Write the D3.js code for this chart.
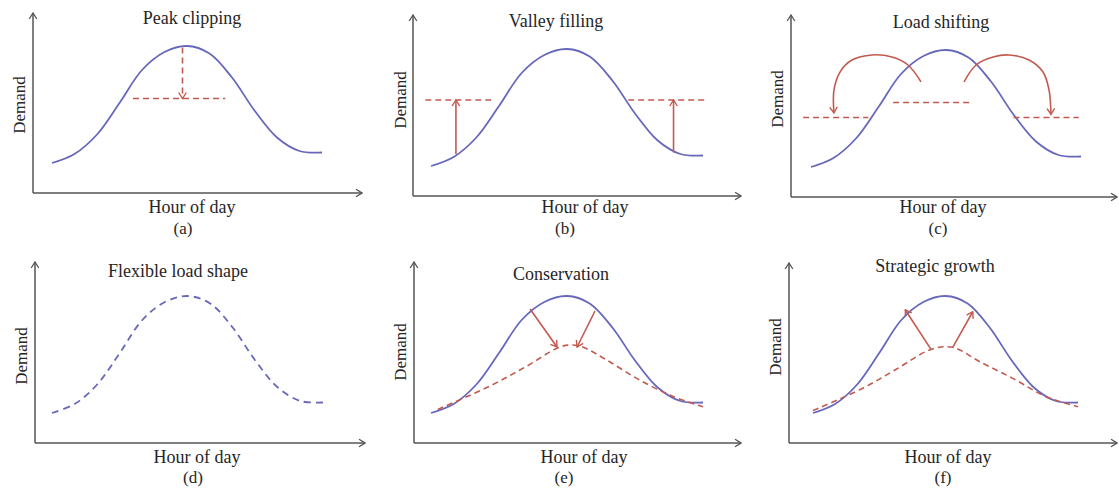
<!DOCTYPE html>
<html>
<head>
<meta charset="utf-8">
<script src="https://cdn.jsdelivr.net/npm/d3@7"></script>
<style>
  body { margin: 0; background: #fff; }
  text { font-family: "Liberation Serif", "DejaVu Serif", serif; fill: #262626; }
  .axis { stroke: #555; stroke-width: 1.5; fill: none; }
  .load { stroke: #6767bb; stroke-width: 1.8; fill: none; }
  .red { stroke: #c35a50; stroke-width: 1.6; fill: none; }
</style>
</head>
<body>
<svg id="chart" width="1119" height="497"></svg>
<script>
// Base load curve (hour of day -> demand, 0..100)
const hours = [0, 2, 4, 6, 8, 10, 12, 14, 16, 18, 20, 22, 24];
const baseDemand = [20, 26, 39, 60, 82, 94, 98, 93, 77, 55, 37, 28, 27];

const titles = ["Peak clipping", "Valley filling", "Load shifting",
                "Flexible load shape", "Conservation", "Strategic growth"];
const letters = ["(a)", "(b)", "(c)", "(d)", "(e)", "(f)"];
const xLabel = "Hour of day";
const yLabel = "Demand";

// (a) peak clipping
const clipLevel = 63;
const clipSpan = [7.2, 15.4];
const clipArrow = [11.6, 97, 63]; // hour, from, to

// (b) valley filling
const fillLevel = 64;
const fillSpans = [[-0.5, 5.3], [17.4, 24.2]];
const fillArrows = [[2.2, 28, 64], [21.4, 29, 64]];

// (c) load shifting
const shiftSpans = [[-0.7, 5.1, 53], [7.3, 14.4, 63], [18.0, 23.8, 53]];
const shiftArcLeft = [[9.78, 76.7], [8.62, 88], [7.2, 93.3], [5.42, 94.7],
                      [3.64, 91.3], [2.58, 83.3], [2.04, 71.3], [2.04, 56]];
const shiftArcRight = [[13.6, 76.7], [14.67, 88], [16.18, 93.3], [17.6, 94.7],
                       [19.38, 91.3], [20.62, 83.3], [21.16, 71.3], [21.33, 55]];

// (e) conservation
const consHours = [0.6, 5.2, 8.4, 11.2, 12.2, 13.3, 15.5, 18.4, 21.4, 24];
const consDemand = [22.4, 38, 51, 63.5, 65.3, 64.2, 55.3, 42, 30.9, 24.2];
const consArrows = [[8.74, 89.3, 11.12, 64], [14.47, 88, 12.89, 64]];

// (f) strategic growth
const growHours = [0, 4.5, 7.5, 10.7, 12.65, 15.1, 18.1, 21.1, 24];
const growDemand = [21.6, 36.5, 49, 62.4, 63.8, 54.2, 43.1, 30.9, 24.2];
const growArrows = [[10.69, 62.4, 8.36, 88.7], [12.65, 63.8, 14.47, 87.5]];

// panel frames (pixels)
const layout = [
  { ox: 33,  oy: 193, top: 13,  right: 362,  x0: 52,  x1: 322,  t: [192, 24],  h: [192, 213], l: [183, 234], d: [25, 105] },
  { ox: 413, oy: 196, top: 15,  right: 741,  x0: 431, x1: 703,  t: [556, 27],  h: [585, 213], l: [565, 234], d: [406, 100] },
  { ox: 791, oy: 197, top: 15,  right: 1117, x0: 811, x1: 1081, t: [941, 28],  h: [943, 213], l: [938, 234], d: [783, 99] },
  { ox: 35,  oy: 443, top: 262, right: 365,  x0: 52,  x1: 323,  t: [178, 277], h: [197, 463], l: [193, 483], d: [27, 356] },
  { ox: 414, oy: 443, top: 262, right: 741,  x0: 431, x1: 703,  t: [561, 280], h: [584, 463], l: [564, 483], d: [406, 352] },
  { ox: 789, oy: 443, top: 263, right: 1117, x0: 813, x1: 1078, t: [935, 272], h: [948, 463], l: [943, 483], d: [781, 347] }
];

const svg = d3.select("#chart");
const defs = svg.append("defs");

function addMarker(id, color, w) {
  defs.append("marker")
    .attr("id", id)
    .attr("viewBox", "-8 -5 9 10")
    .attr("refX", 0).attr("refY", 0)
    .attr("markerWidth", 9).attr("markerHeight", 10)
    .attr("markerUnits", "userSpaceOnUse")
    .attr("orient", "auto")
    .append("path")
    .attr("d", "M-6,-3.8L0,0L-6,3.8")
    .attr("fill", "none")
    .attr("stroke", color)
    .attr("stroke-width", w);
}
addMarker("axisHead", "#555", 1.3);
addMarker("redHead", "#c35a50", 1.4);

const baseData = hours.map((h, i) => [h, baseDemand[i]]);

function drawPanel(i) {
  const L = layout[i];
  const g = svg.append("g");
  const x = d3.scaleLinear().domain([0, 24]).range([L.x0, L.x1]);
  const y = d3.scaleLinear().domain([0, 100]).range([L.oy, L.oy - 150]);
  const line = d3.line().x(d => x(d[0])).y(d => y(d[1])).curve(d3.curveCatmullRom);

  // axes
  g.append("line").attr("class", "axis")
    .attr("x1", L.ox).attr("y1", L.oy).attr("x2", L.ox).attr("y2", L.top)
    .attr("marker-end", "url(#axisHead)");
  g.append("line").attr("class", "axis")
    .attr("x1", L.ox).attr("y1", L.oy).attr("x2", L.right).attr("y2", L.oy)
    .attr("marker-end", "url(#axisHead)");

  // labels
  g.append("text").attr("x", L.t[0]).attr("y", L.t[1]).attr("text-anchor", "middle")
    .attr("font-size", 18).text(titles[i]);
  g.append("text").attr("x", L.h[0]).attr("y", L.h[1]).attr("text-anchor", "middle")
    .attr("font-size", 18).text(xLabel);
  g.append("text").attr("x", L.l[0]).attr("y", L.l[1]).attr("text-anchor", "middle")
    .attr("font-size", 17).text(letters[i]);
  g.append("text").attr("text-anchor", "middle").attr("font-size", 17)
    .attr("transform", `translate(${L.d[0]},${L.d[1]}) rotate(-90)`).text(yLabel);

  // load curve
  const curve = g.append("path").attr("class", "load").attr("d", line(baseData));
  if (i === 3) curve.attr("stroke-dasharray", "7,5").attr("stroke-width", 2);

  const hline = (h0, h1, v) => g.append("line").attr("class", "red")
    .attr("stroke-dasharray", "6,4")
    .attr("x1", x(h0)).attr("x2", x(h1)).attr("y1", y(v)).attr("y2", y(v));
  const arrow = (h0, v0, h1, v1) => g.append("line").attr("class", "red")
    .attr("x1", x(h0)).attr("y1", y(v0)).attr("x2", x(h1)).attr("y2", y(v1))
    .attr("marker-end", "url(#redHead)");

  if (i === 0) {
    hline(clipSpan[0], clipSpan[1], clipLevel);
    arrow(clipArrow[0], clipArrow[1], clipArrow[0], clipArrow[2]).attr("stroke-dasharray", "6,4");
  }
  if (i === 1) {
    fillSpans.forEach(s => hline(s[0], s[1], fillLevel));
    fillArrows.forEach(a => arrow(a[0], a[1], a[0], a[2]));
  }
  if (i === 2) {
    shiftSpans.forEach(s => hline(s[0], s[1], s[2]));
    [shiftArcLeft, shiftArcRight].forEach(arc => {
      g.append("path").attr("class", "red").attr("d", line(arc))
        .attr("marker-end", "url(#redHead)");
    });
  }
  if (i === 4) {
    g.append("path").attr("class", "red").attr("stroke-dasharray", "6,4")
      .attr("d", line(consHours.map((h, k) => [h, consDemand[k]])));
    consArrows.forEach(a => arrow(a[0], a[1], a[2], a[3]));
  }
  if (i === 5) {
    g.append("path").attr("class", "red").attr("stroke-dasharray", "6,4")
      .attr("d", line(growHours.map((h, k) => [h, growDemand[k]])));
    growArrows.forEach(a => arrow(a[0], a[1], a[2], a[3]));
  }
}

titles.forEach((t, i) => drawPanel(i));
</script>
</body>
</html>
